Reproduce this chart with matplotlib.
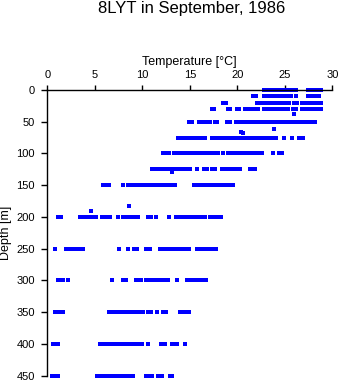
import matplotlib
matplotlib.use("Agg")
import matplotlib.pyplot as plt

# temperatures [°C]
t_0 = [22.8, 23.1, 23.4, 23.7, 24.0, 24.3, 24.6, 24.9, 25.2, 25.5, 25.9, 26.2,
       27.4, 27.7, 28.0, 28.3, 28.6, 28.8]
t_10 = [21.7, 22.0, 22.8, 23.1, 23.4, 23.7, 24.0, 24.3, 24.6, 24.9, 25.3, 25.7,
        26.2, 27.4, 27.7, 28.0, 28.3, 28.6]
t_20 = [18.5, 18.8, 22.1, 22.4, 22.7, 23.0, 23.3, 23.6, 23.9, 24.2, 24.5, 24.8,
        25.1, 25.4, 26.0, 26.3, 26.8, 27.1, 27.4, 27.7, 28.0, 28.3, 28.6, 28.8]
t_30 = [17.3, 17.5, 19.0, 19.2, 20.0, 20.2, 20.8, 21.1, 21.5, 21.9, 22.2, 22.8,
        23.1, 23.4, 23.7, 24.0, 24.3, 24.6, 24.9, 25.3, 25.9, 26.2, 26.8, 27.1,
        27.4, 27.7, 28.0, 28.3, 28.6, 28.8]
t_38 = [26.0]
t_50 = [14.9, 15.2, 16.0, 16.2, 16.5, 16.8, 17.1, 17.7, 17.9, 18.9, 19.2, 19.9,
        20.2, 20.5, 20.8, 21.1, 21.4, 21.7, 22.0, 22.3, 22.6, 22.9, 23.2, 23.5,
        23.8, 24.1, 24.4, 24.7, 25.0, 25.3, 25.6, 26.0, 26.3, 26.6, 26.9, 27.3,
        27.6, 27.9, 28.2]
t_62 = [23.9]
t_66 = [20.4]
t_68 = [20.6]
t_75 = [13.8, 14.1, 14.4, 14.7, 14.9, 15.1, 15.4, 15.7, 16.0, 16.3, 16.6, 17.3,
        17.6, 17.9, 18.2, 18.5, 18.8, 19.1, 19.4, 19.7, 20.0, 20.3, 20.6, 20.9,
        21.2, 21.5, 21.8, 22.1, 22.4, 22.7, 23.0, 23.3, 23.6, 23.9, 24.1, 24.9,
        25.8, 26.5, 26.9]
t_100 = [12.2, 12.5, 12.8, 13.3, 13.7, 14.0, 14.3, 14.6, 14.9, 15.2, 15.5, 15.8,
         16.1, 16.4, 16.7, 17.0, 17.3, 17.6, 18.0, 18.5, 19.0, 19.3, 19.5, 19.8,
         20.1, 20.4, 20.7, 21.0, 21.3, 21.6, 21.9, 22.2, 22.6, 23.8, 24.4, 24.7]
t_125 = [11.0, 11.3, 11.6, 11.9, 12.2, 12.5, 12.8, 13.1, 13.4, 13.7, 14.0, 14.3,
         14.6, 15.0, 15.8, 16.5, 16.8, 17.3, 17.6, 18.4, 18.7, 19.1, 19.4, 19.7,
         20.0, 20.3, 21.3, 21.6, 21.9]
t_130 = [13.1]
t_150 = [5.9, 6.2, 6.5, 8.0, 8.5, 8.9, 9.2, 9.5, 9.8, 10.1, 10.4, 10.7, 11.0,
         11.3, 11.6, 11.9, 12.2, 12.5, 12.8, 13.1, 13.4, 15.4, 15.7, 16.0, 16.3,
         16.6, 16.8, 17.2, 17.5, 17.8, 18.1, 18.4, 18.7, 19.0, 19.3, 19.5]
t_183 = [8.55]
t_191 = [4.55]
t_200 = [1.1, 1.4, 3.4, 3.7, 4.0, 4.3, 4.6, 4.9, 5.1, 5.8, 6.1, 6.4, 6.6, 7.4,
         8.0, 8.3, 8.6, 8.9, 9.3, 9.5, 10.6, 10.9, 11.4, 12.8, 13.5, 13.8, 14.1,
         14.4, 14.7, 15.0, 15.3, 15.6, 15.9, 16.2, 16.6, 17.1, 17.4, 17.7, 18.0,
         18.3]
t_250 = [0.85, 2.0, 2.3, 2.6, 2.9, 3.2, 3.5, 3.8, 7.5, 8.45, 9.1, 9.4, 10.4,
         10.8, 11.9, 12.2, 12.5, 12.8, 13.1, 13.4, 13.7, 14.0, 14.3, 14.5, 14.95,
         15.8, 16.1, 16.4, 16.7, 17.0, 17.3, 17.6, 17.8]
t_300 = [1.1, 1.4, 1.7, 2.2, 6.85, 8.0, 8.3, 9.3, 9.7, 9.9, 10.4, 10.6, 10.9,
         11.2, 11.4, 11.9, 12.1, 12.4, 12.7, 13.7, 14.7, 15.0, 15.2, 15.6, 15.9,
         16.2, 16.5, 16.7]
t_350 = [0.8, 1.1, 1.4, 1.6, 6.5, 6.8, 7.1, 7.4, 7.7, 8.0, 8.4, 8.7, 9.0, 9.2,
         9.5, 9.8, 10.1, 10.6, 10.9, 11.5, 12.2, 12.5, 13.95, 14.35, 14.65, 14.95]
t_400 = [0.6, 0.9, 1.1, 5.5, 5.8, 6.1, 6.4, 6.7, 7.0, 7.3, 7.5, 7.7, 8.0, 8.3,
         8.6, 8.9, 9.2, 9.5, 9.7, 10.0, 10.6, 11.95, 12.4, 13.1, 13.35, 13.6,
         14.45]
t_450 = [0.5, 0.8, 1.1, 5.2, 5.5, 5.7, 6.0, 6.3, 6.6, 6.9, 7.2, 7.5, 7.8, 8.1,
         8.4, 8.7, 9.0, 10.35, 10.75, 11.0, 11.6, 11.9, 12.1, 12.9, 13.1]

depth_levels = [0, 10, 20, 30, 38, 50, 62, 66, 68, 75, 100, 125, 130, 150,
                183, 191, 200, 250, 300, 350, 400, 450]
profiles = [t_0, t_10, t_20, t_30, t_38, t_50, t_62, t_66, t_68, t_75, t_100,
            t_125, t_130, t_150, t_183, t_191, t_200, t_250, t_300, t_350,
            t_400, t_450]

x_ticks = [0, 5, 10, 15, 20, 25, 30]
y_ticks = [0, 50, 100, 150, 200, 250, 300, 350, 400, 450]

plt.rcParams['font.family'] = ['Liberation Sans', 'DejaVu Sans']

fig = plt.figure(figsize=(3.41, 3.84), dpi=100)
ax = fig.add_axes([47.3 / 341, 1 - 375.5 / 384, 285 / 341, 285.5 / 384])

xs = []
ys = []
for d, temps in zip(depth_levels, profiles):
    for t in temps:
        xs.append(t)
        ys.append(d)
ax.plot(xs, ys, 's', color='#0000ff', markersize=2.2, markeredgewidth=0,
        clip_on=False)

ax.set_xlim(0, 30)
ax.set_ylim(450, 0)
ax.xaxis.tick_top()
ax.xaxis.set_label_position('top')
ax.set_xticks(x_ticks)
ax.set_yticks(y_ticks)
ax.tick_params(axis='x', direction='out', length=3.6, width=1, pad=3.4,
               labelsize=8, colors='black')
ax.tick_params(axis='y', direction='out', length=4.3, width=1, pad=4.6,
               labelsize=8, colors='black')
for side in ['right', 'bottom']:
    ax.spines[side].set_visible(False)
for side in ['left', 'top']:
    ax.spines[side].set_linewidth(1)

ax.set_xlabel('Temperature [°C]', fontsize=9, labelpad=3.5)
ax.set_ylabel('Depth [m]', fontsize=9, labelpad=3.5)
fig.text(0.563, 1 - 1.5 / 384, '8LYT in September, 1986', ha='center',
         va='top', fontsize=12)

fig.savefig('out.png', dpi=100)
